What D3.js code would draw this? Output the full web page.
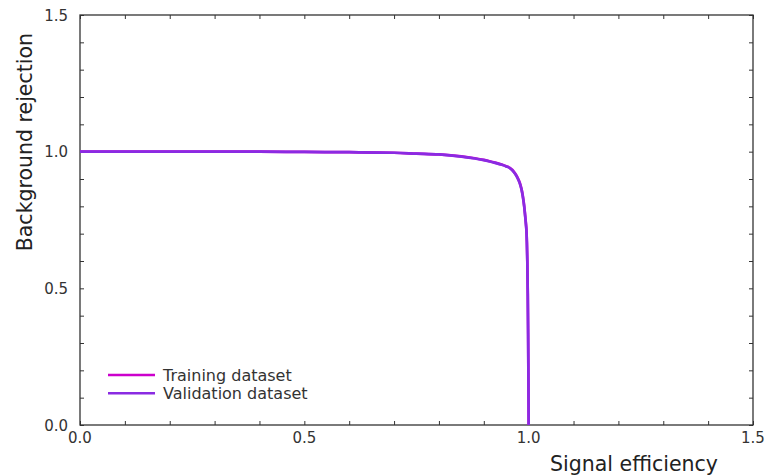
<!DOCTYPE html>
<html><head><meta charset="utf-8">
<script src="https://cdn.jsdelivr.net/npm/d3@7"></script>
<style>body{margin:0;background:#fff}svg{display:block}text{font-family:"DejaVu Sans",sans-serif}</style>
</head><body><svg id="c" width="765" height="475"></svg>
<script>
const signalEff = [0.0, 0.1, 0.2, 0.3, 0.4, 0.5, 0.6, 0.7, 0.75, 0.8, 0.85, 0.88, 0.9, 0.913, 0.925, 0.94, 0.95, 0.958, 0.964, 0.97, 0.975, 0.98, 0.984, 0.987, 0.990, 0.992, 0.994, 0.995, 0.996, 0.997, 0.998, 0.9988, 0.9995, 1.0];
const trainRej  = [1.0, 1.0, 1.0, 1.0, 1.0, 0.999, 0.998, 0.996, 0.993, 0.99, 0.983, 0.976, 0.970, 0.965, 0.960, 0.953, 0.947, 0.941, 0.933, 0.920, 0.906, 0.887, 0.864, 0.838, 0.802, 0.770, 0.735, 0.713, 0.67, 0.60, 0.48, 0.33, 0.16, 0.0];
const validRej  = [1.0, 1.0, 1.0, 1.0, 1.0, 0.999, 0.998, 0.996, 0.993, 0.99, 0.982, 0.975, 0.969, 0.964, 0.959, 0.952, 0.946, 0.940, 0.931, 0.918, 0.904, 0.885, 0.862, 0.835, 0.800, 0.767, 0.732, 0.712, 0.668, 0.60, 0.48, 0.33, 0.16, 0.0];
const majorTicks = [0.0, 0.5, 1.0, 1.5];
const tickLabels = ["0.0", "0.5", "1.0", "1.5"];
const seriesNames = ["Training dataset", "Validation dataset"];
const seriesColors = ["#cc00cc", "#8a2be2"];

const svg = d3.select("#c");
const L = 80, R = 753, T = 15, B = 425;
const x = d3.scaleLinear().domain([0, 1.5]).range([L, R]);
const y = d3.scaleLinear().domain([0, 1.5]).range([B, T]);
const minor = d3.range(0, 1.5001, 0.1);
const axCol = "#333";

const tk = (scale, orient, pos) => {
  const a = orient(scale).tickValues(minor).tickSize(-4).tickFormat("");
  const g = svg.append("g").attr("transform", pos).call(a);
  g.select(".domain").remove();
  g.selectAll("line").attr("stroke", axCol).attr("stroke-width", 1);
};
tk(x, d3.axisBottom, `translate(0,${B})`);
tk(x, d3.axisTop, `translate(0,${T})`);
tk(y, d3.axisLeft, `translate(${L},0)`);
tk(y, d3.axisRight, `translate(${R},0)`);

svg.append("rect").attr("x", L).attr("y", T).attr("width", R - L).attr("height", B - T)
  .attr("fill", "none").attr("stroke", axCol).attr("stroke-width", 1.3);

svg.append("g").selectAll("text").data(majorTicks).join("text")
  .attr("x", d => x(d)).attr("y", B + 18).attr("text-anchor", "middle")
  .attr("font-size", 15).attr("fill", "#333").text((d, i) => tickLabels[i]);
svg.append("g").selectAll("text").data(majorTicks).join("text")
  .attr("x", L - 12).attr("y", d => y(d) + 5.5).attr("text-anchor", "end")
  .attr("font-size", 15).attr("fill", "#333").text((d, i) => tickLabels[i]);

svg.append("text").attr("x", 718).attr("y", 471).attr("text-anchor", "end")
  .attr("font-size", 20.5).attr("fill", "#222").text("Signal efficiency");
svg.append("text").attr("transform", "translate(32,33) rotate(-90)").attr("text-anchor", "end")
  .attr("font-size", 20.5).attr("fill", "#222").text("Background rejection");

const line = d3.line().x(d => x(d[0])).y(d => y(d[1])).curve(d3.curveMonotoneX);
[trainRej, validRej].forEach((s, i) => {
  svg.append("path").datum(signalEff.map((e, j) => [e, s[j]]))
    .attr("d", line).attr("fill", "none").attr("stroke", seriesColors[i])
    .attr("stroke-width", 2.7).attr("stroke-linejoin", "round");
});

const lg = svg.append("g");
seriesNames.forEach((n, i) => {
  const yy = 375 + i * 18.3;
  lg.append("line").attr("x1", 108).attr("x2", 155).attr("y1", yy).attr("y2", yy)
    .attr("stroke", seriesColors[i]).attr("stroke-width", 2.6);
  lg.append("text").attr("x", 163).attr("y", yy + 5.5).attr("font-size", 16).attr("fill", "#333").text(n);
});
</script></body></html>
